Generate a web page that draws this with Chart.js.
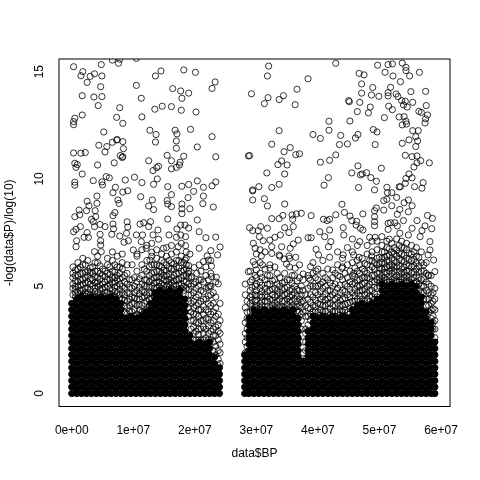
<!DOCTYPE html>
<html>
<head>
<meta charset="utf-8">
<style>html,body{margin:0;background:#fff}canvas{display:block}</style>
<script src="https://cdn.jsdelivr.net/npm/chart.js@4"></script>
</head>
<body>
<canvas id="chart1" width="480" height="480"></canvas>
<script>
// values, BP in units of 1e6
const xTickLabels = ['0e+00','1e+07','2e+07','3e+07','4e+07','5e+07','6e+07'];
const yTickLabels = ['0','5','10','15'];

const topLeft = [[.3,15.23],[1.8,15],[1.5,14.81],[3,14.78],[3.7,14.9],[4.9,14.8],[4.8,15.33],[2.5,14.5],[4.7,14.3],[1.7,13.88],[3.6,13.82],[4.9,13.84],[4.3,13.42],[1.7,12.98],[.5,12.83],[.3,12.67],[.3,12.53],[6.6,15.54],[7.6,15.39],[7.8,15.58],[10.5,15.62],[13.6,14.8],[14.5,15.03],[18.2,15.08],[20.1,14.97],[10.5,14.36],[11.3,13.76],[7.8,13.32],[13.5,13.25],[14.7,13.39],[16.2,13.37],[17.8,13.2],[20.2,13.12],[16.4,14.21],[17.7,14.1],[19,14],[17.9,13.76],[23.3,14.52],[22.8,14.22],[7.3,12.87],[8.3,12.59],[11.4,12.89],[5.2,12.19],[12.7,12.27],[13.7,12.07],[16.8,12.27],[17.1,12.1],[19.3,12.31],[22.8,11.97],[17,11.77],[13.6,11.72],[17,11.43],[20.4,11.49],[4.4,11.57],[5.7,11.51],[6.6,11.71],[7.3,11.82],[7.4,11.83],[8.3,11.74],[8.4,11.41],[5.4,11.26],[.3,11.21],[1.5,11.2],[2.2,11.23],[7.9,11.09],[8.3,11.04],[8.2,11],[12.5,10.85],[15.5,11.1],[16.2,10.85],[18.2,11.06],[23.4,11.03],[28.7,11.07],[.5,10.73],[.9,10.67],[.7,10.54],[4.2,10.65],[6.9,10.75],[17.6,10.78],[17.5,10.65],[17,10.54],[16.2,10.47],[14.1,10.59],[13.8,10.53],[13.2,10.39],[1.7,10.23],[3.5,9.92],[4.9,9.86],[5.6,10.11],[6.1,10.05],[8.7,9.95],[10.2,10.08],[11.4,9.83],[13.9,10],[13.3,9.75],[.5,9.85],[.5,9.71],[5,9.72],[7.1,9.61],[15.6,9.64],[17.9,9.66],[19,9.74],[20.4,9.91],[21.4,9.61],[22.8,9.68],[23.4,9.86]];

const topRight = [[32,15.26],[31.8,14.8],[38.4,14.67],[42.9,15.39],[29.2,13.97],[31.9,13.79],[33.7,13.7],[34.4,13.88],[36.6,14.18],[31.3,13.51],[36.3,13.46],[49.7,15.3],[51.4,15.33],[52.1,15.36],[53.7,15.4],[54.3,15.2],[54.3,15.05],[50.9,14.97],[46.7,14.92],[47.5,14.85],[52.2,14.8],[54.9,14.8],[56.5,14.97],[53.4,14.53],[47.1,14.43],[48.9,14.26],[51.8,14.27],[55.1,14.07],[57.5,14.08],[47.1,14],[48.7,13.91],[49.9,13.85],[51.4,14.02],[51.4,13.87],[52.7,13.96],[53,13.84],[45,13.65],[45.1,13.6],[46.8,13.57],[53.6,13.65],[54.2,13.62],[55.4,13.57],[53.9,13.45],[54.5,13.35],[57.6,13.42],[48.5,13.35],[46.4,13.14],[48.2,13.08],[51.5,13.39],[52.1,13.23],[56.4,13.15],[56.8,13.1],[57.8,12.98],[57.5,12.8],[57.4,12.61],[50.8,12.86],[53.2,12.89],[54,12.9],[54.3,12.69],[54.4,12.56],[53.7,12.52],[41.8,12.69],[45.2,12.7],[41.8,12.27],[33.7,12.25],[39.2,12.07],[40.4,11.89],[43.7,12.03],[46.5,12.07],[46.1,11.91],[49,12.3],[49.6,12.19],[55.4,12.25],[56.3,12.25],[55.9,11.97],[56.2,11.77],[54.8,11.82],[53.7,11.66],[55.9,11.51],[49.3,11.6],[44.8,11.63],[43.5,11.6],[32.5,11.62],[35.5,11.46],[34.5,11.27],[36.4,11.13],[37,11.17],[28.9,11.09],[34.1,10.84],[33.5,10.67],[35,10.65],[42.9,11.12],[41.9,10.87],[40.4,10.78],[54.2,11.1],[55.3,11.04],[56.1,11.07],[56.7,10.85],[56.1,10.75],[55.6,10.56],[58.1,10.75],[46.5,10.61],[50.3,10.5],[31.7,10.28],[34.6,10.23],[45.5,10.28],[46.9,10.19],[47.2,10.23],[47.9,10.29],[48.6,10.06],[49.5,9.89],[41.7,10.06],[54.8,10.23],[55.3,10.05],[54.3,10.02],[54.2,9.8],[57.1,9.83],[41,9.71],[33.7,9.75],[32.5,9.6],[30.4,9.64],[29.4,9.49],[46.6,9.6],[49.2,9.49],[51.2,9.61],[53.2,9.63],[53.4,9.64],[55.7,9.64],[56.9,9.57]];

const midLeft = [[6.7,9.36],[8.3,9.39],[9.1,9.45],[11.2,9.17],[4.1,9.2],[2.5,8.96],[7.5,9.02],[7.7,8.86],[4.1,8.86],[2.8,8.75],[12.5,8.74],[13.1,9.02],[13.3,8.57],[15.5,8.99],[15.6,8.83],[16.2,9.27],[16.2,8.71],[17.9,8.83],[17.9,8.61],[17.9,8.38],[19.2,8.61],[18.9,9.13],[19.8,9.42],[21.4,9.2],[21.3,8.85],[23,8.69],[1.2,8.55],[2.4,8.52],[3.8,8.52],[.5,8.24],[1.3,8.33],[3.9,8.24],[7,8.43],[6.7,8.29],[15.6,8.13],[20.4,8.09],[3.2,8.12],[3.5,8.01],[9,8],[9.1,7.76],[11.1,7.9],[11.7,7.96],[12.8,8.01],[12.5,7.78],[4.6,7.88],[5.4,7.78],[6.7,7.9],[6.8,7.68],[3.7,7.78],[1.4,7.78],[.7,7.65],[.3,7.54],[17.7,7.85],[18.4,7.85],[19,7.71],[17.1,7.67],[20.7,7.54],[14,7.62],[2.5,7.5],[4.6,7.42],[6.5,7.42],[8.9,7.47],[10.5,7.39],[11.5,7.39],[13.2,7.39],[15.8,7.39],[17.7,7.39],[21.8,7.26],[23.4,7.29],[2,7.28],[2.7,7.28],[7.8,7.34],[11.3,7.08],[4.7,7.12],[.8,7.12],[8.5,7.05],[9.2,7.12],[14.1,7.19],[17,7.28],[18.5,7.31],[18.5,6.89],[24.1,6.83],[20.7,6.77],[22.6,6.66],[23.7,6.46],[4.7,6.92],[.7,6.84],[3.7,6.61],[4.8,6.61],[10,6.69],[10.6,6.5],[12.1,6.77],[13,6.58],[12.7,6.22],[14.9,6.77],[17.3,6.84],[19.2,6.5],[22,6.41],[21.4,6.15],[20.7,5.99],[19,5.96],[19.9,5.87],[18.4,6.22],[22.7,5.94],[22.2,6.22],[23.8,5.11],[23.5,5.42],[22.4,5.01],[20.3,5.6],[19.5,5.45],[20.7,5.29],[18.9,5.6],[22.7,5.45],[24.1,4.2]];

const midRight = [[29.4,9.44],[29.4,9.02],[31.3,9.08],[31.8,8.74],[34.6,8.83],[32.5,8.15],[33.7,8.15],[34.3,8.3],[35.8,8.32],[35.9,8.12],[36.5,8.37],[37.3,8.4],[38.9,8.29],[40.9,8.12],[41.5,8.06],[41.9,8.12],[42.9,8.33],[43.9,8.82],[44.3,8.44],[45.2,8.27],[46.3,8.02],[47.3,8.37],[45.5,8.06],[49.2,8.52],[49.5,8.65],[50.7,8.99],[51.2,9.05],[51.3,9.36],[52,9.36],[52.8,9.14],[52,8.75],[50.7,8.55],[54,8.89],[54.7,9.02],[55.3,8.75],[53.3,8.58],[54.7,8.47],[52.9,8.35],[57.8,8.3],[58.6,8.16],[56.1,8.06],[57.4,7.81],[58.5,7.68],[49.2,8.24],[49.2,8.01],[49.2,7.82],[51.4,7.93],[51.8,7.96],[52.5,7.96],[53.9,8.06],[51.4,7.65],[52.9,7.81],[55.3,7.7],[56.9,7.59],[28.9,7.73],[29.4,7.59],[30.7,7.78],[30.3,7.59],[31.8,7.7],[34.6,7.73],[36,7.78],[35.3,7.5],[33.9,7.39],[33,7.28],[32.2,7.15],[31.1,7.12],[30.5,7.31],[36.8,7.15],[38.4,7.26],[38.9,7.26],[40.3,7.54],[41.9,7.62],[41.1,7.31],[44.1,7.73],[44.2,7.39],[46.2,7.85],[46.9,7.7],[47.3,7.62],[45.6,7.2],[42.1,7.08],[46.8,7.08],[48.4,7.28],[49.3,7.28],[50.4,7.31],[51.6,7.19],[53.3,7.47],[54.7,7.39],[56.6,7.31],[58.2,7.08],[29.5,7],[29.8,6.77],[32.5,6.84],[34.1,6.84],[35.5,6.77],[36,6.97],[41.7,6.84],[39.7,6.72],[30,6.5],[30.8,6.41],[32.5,6.53],[33.7,6.46],[34.5,6.27],[35.3,6.41],[36.4,6.35],[40.1,6.46],[41.9,6.35],[44.1,6.46],[45.8,6.46],[46.7,6.35],[48.7,6.41],[58.2,6.69],[57.9,6.46],[58.8,6.22],[29.5,6.15],[31,5.99],[28.7,5.68],[30,5.76],[32.2,5.84],[34.9,6.04],[36.3,5.84],[37.6,5.57],[38.8,5.91],[39.7,5.71],[38.5,5.37],[42.4,5.76],[43.9,5.84],[45.8,5.6],[59,5.68],[57.9,5.52]];

// the mesh just above the black mass, estimated column by column
const meshBP = [.2,1,1.8,2.6,3.4,4.2,5,5.8,6.6,7.4,8.2,9,9.8,10.6,11.4,12.2,13,13.8,14.6,15.4,16.2,17,17.8,18.6,19.4,20.2,21,21.8,22.6,23.4,24.1,28.2,29,29.8,30.6,31.4,32.2,33,33.8,34.6,35.4,36.2,37,37.6,38.4,39.2,40,40.8,41.6,42.4,43.2,44,44.8,45.6,46.4,47.2,48,48.8,49.6,50.4,51.2,52,52.8,53.6,54.4,55.2,56,56.8,57.6,58.4,59];
const meshLogP = [
[4.6,4.9,5.1,5.4,5.6,5.9],[4.7,5,5.2,5.5,5.8,6.1],[4.6,4.8,5.1,5.3,5.6,6,6.3],[4.7,4.9,5.2,5.5,5.7,6.2],[4.6,5,5.3,5.6,5.9],[4.7,5,5.2,5.4,5.7,6.1,6.4],[4.6,4.9,5.1,5.5,5.8],[4.7,5,5.3,5.6,6,6.3],[4.6,4.8,5.2,5.4,5.7,6.2,6.6],[4.7,5,5.3,5.5,5.9,6.4],[4.4,4.7,5,5.4,5.8,6.1,6.5],
[3.7,4,4.3,4.7,5.1,5.6,6],[3.8,4.2,4.5,4.9,5.3,6],[3.7,4.1,4.4,4.8,5.2,5.7,6.4],[3.8,4.1,4.5,4.8,5.1,5.5,6,6.7],[3.9,4.3,4.6,5,5.3,5.7,6.2,6.9],[4.4,4.7,5,5.3,5.6,6,6.4,7],[4.9,5.2,5.4,5.7,6,6.3,6.7],[4.9,5.1,5.4,5.6,5.9,6.2,6.5],[5,5.2,5.5,5.7,6,6.4,6.8],[4.9,5.2,5.4,5.8,6.1,6.5,6.9],[5,5.3,5.6,5.9,6.2,6.6],[4.9,5.1,5.4,5.7,6.1,6.4,7],[4.9,5.2,5.5,5.8,6,6.3,6.6],
[3,3.4,3.8,4.2,4.6,5,5.4],[2.5,2.9,3.3,3.7,4.1,4.5,4.9,5.2],[2.5,3,3.4,3.9,4.3,4.8,5.3,5.7],[2.6,3,3.5,3.9,4.4,4.9,5.5,5.9],[2.5,2.9,3.3,3.7,4.1,4.6,5,5.6,6.2],[1.8,2.2,2.7,3.1,3.6,4,4.5,5.2],[1.4,1.9,2.3,2.8,3.4],
[1.9,2.4,2.8,3.3,4,4.6,5.1],[3.8,4.2,4.5,4.8,5.2,5.7],[4,4.3,4.6,5,5.5,6],[4,4.2,4.6,4.9,5.2,5.6,6.1,6.7],[3.9,4.3,4.6,4.9,5.3,5.8,6.6],[4,4.4,4.8,5.1,5.5,6],[4,4.2,4.5,4.9,5.3,5.9],[4,4.4,4.7,5,5.4,6.4],[4,4.3,4.6,4.9,5.2,5.6],[4,4.3,4.5,4.8,5.3,5.9,6.3],[4,4.4,4.7,5,5.5],[3.8,4.1,4.4,4.8,5.4,6],[1.9,2.4,3.8,4.3,4.8,5.3],[3.2,3.6,4,4.4,4.9,5.5],
[3.8,4.1,4.5,5,5.6,6.1],[3.8,4.2,4.6,5,5.3,5.8],[3.8,4.1,4.5,4.9,5.2,5.6,6.2],[3.8,4.2,4.4,4.8,5.3,5.8],[3.8,4.1,4.6,5,5.4],[3.8,4.2,4.5,4.9,5.5,6,6.6],[3.8,4.1,4.4,4.8,5.3,5.9,6.3],[3.8,4.2,4.6,5,5.4,6,6.8],[3.9,4.3,4.7,5.1,5.5,6.1,6.6],[4.4,4.7,5,5.3,5.7,6.2,6.9],[4.4,4.8,5.1,5.4,5.8,6.3],[4.4,4.7,5,5.4,5.6,6,6.5,6.9],[4.5,4.8,5.2,5.5,5.9,6.2,6.6,7.1],[4.5,4.9,5.3,5.6,6,6.3,6.7,7.1],
[5.3,5.5,5.8,6.1,6.3,6.6,6.9],[5.3,5.6,5.9,6.2,6.4,6.8,7.1],[5.3,5.6,5.8,6,6.3,6.6,7],[5.3,5.5,5.9,6.1,6.4,6.7,7.2],[5.3,5.6,5.8,6.2,6.5,6.8,7.1],[5.3,5.5,5.7,6,6.3,6.7,7],[5.3,5.6,5.9,6.2,6.5,6.9],[5.2,5.5,5.8,6.1,6.4,6.8],[4.7,5,5.3,5.7,6.1,6.6],[4.1,4.4,4.8,5.2,5.6,6.1],[3.5,3.9,4.2,4.6,5,5.5],[2.6,3,3.4,3.9,4.4,4.9]
];

// second pass between those columns, the dark part of the mesh
const darkMeshBP = [.6,1.4,2.2,3,3.8,4.6,5.4,6.2,7,7.8,8.6,9.4,10.2,11,11.8,12.6,13.4,14.2,15,15.8,16.6,17.4,18.2,19,19.8,20.6,21.4,22.2,23,23.8,28.5,29.3,30,30.9,31.8,32.6,33.4,34.2,35,35.8,36.6,37.3,38,38.8,39.6,40.4,41.2,42,42.8,43.6,44.4,45.2,46,46.8,47.6,48.4,49.2,50,50.8,51.6,52.4,53.2,54,54.8,55.6,56.4,57.2,58,58.7];
const darkMeshLogP = [
[4.5,4.7,4.85,5,5.25,5.5,5.75],[4.5,4.65,4.8,5.05,5.3,5.6,5.9],[4.55,4.7,4.9,5.15,5.4,5.65,6],[4.5,4.6,4.85,5.1,5.35,5.65,5.85],[4.55,4.75,4.9,5.15,5.45,5.7,6.1],[4.5,4.65,4.85,5.05,5.35,5.6,5.95],[4.55,4.7,4.95,5.2,5.45,5.7],[4.5,4.65,4.9,5.1,5.3,5.55,5.9],[4.55,4.75,4.95,5.15,5.4,5.65,6],[4.4,4.6,4.85,5.1,5.35,5.6,5.9],
[3.8,4.1,4.35,4.6,4.9,5.2,5.5],[3.6,3.85,4.1,4.4,4.65,4.95,5.3],[3.6,3.9,4.2,4.45,4.7,5,5.4],[3.65,3.9,4.15,4.4,4.65,4.95,5.35],[3.6,3.85,4.2,4.5,4.7,5,5.3,5.8],[3.9,4.1,4.4,4.7,4.95,5.2,5.5,5.9],[4.5,4.7,4.9,5.15,5.4,5.65,6],[4.8,5,5.2,5.45,5.7,5.95],[4.85,5.05,5.3,5.5,5.75,6.1],[4.85,5.1,5.3,5.55,5.85,6.2],[4.85,5.05,5.25,5.5,5.8,6.05],[4.85,5.1,5.3,5.6,5.85,6.2],[4.8,5,5.25,5.5,5.75,6.1],
[3.6,4,4.3,4.6,4.85,5.1,5.4,5.7],[2.5,2.8,3.1,3.4,3.7,4,4.3,4.7,5.1],[2.5,2.75,3,3.3,3.6,3.9,4.2,4.6,5],[2.5,2.8,3.1,3.4,3.7,4.05,4.4,4.75,5.2],[2.5,2.8,3.15,3.45,3.8,4.2,4.55,4.95,5.3],[2,2.4,2.7,3,3.4,3.8,4.2,4.7],[1.3,1.6,2,2.5,2.9,3.2,3.7],
[1.9,2.2,2.6,3,3.5,3.8,4.3],[3.6,3.9,4.05,4.35,4.6,4.95,5.3],[3.9,4.1,4.35,4.55,4.8,5.1,5.4],[3.9,4.1,4.3,4.5,4.75,5.05,5.4],[3.9,4.05,4.3,4.5,4.75,5.1,5.5],[3.85,4.1,4.35,4.6,4.85,5.25],[3.9,4.1,4.3,4.6,4.8,5.1,5.6],[3.85,4.05,4.3,4.55,4.85,5.15],[3.9,4.15,4.4,4.65,4.95,5.3],[3.9,4.1,4.3,4.6,4.85,5.15,5.5],[3.85,4.05,4.3,4.55,4.85,5.25],[3,3.4,3.7,4,4.25,4.6,5],[1.6,2,2.4,2.8,3,3.6,4.1,4.6],
[3.4,3.7,3.95,4.25,4.6,5,5.3],[3.6,3.85,4.05,4.35,4.7,5,5.4],[3.65,3.9,4.15,4.4,4.75,5.1],[3.6,3.85,4.1,4.35,4.65,5,5.4],[3.65,3.95,4.2,4.5,4.8,5.15],[3.6,3.85,4.1,4.4,4.7,5.1,5.6],[3.65,3.9,4.1,4.35,4.7,5.05,5.45],[3.6,3.9,4.15,4.45,4.75,5.1,5.6],[3.7,3.95,4.25,4.5,4.85,5.2,5.7],[4.1,4.3,4.55,4.85,5.15,5.45,5.85],[4.3,4.55,4.8,5,5.3,5.6,6],[4.3,4.6,4.85,5.15,5.4,5.7,6.05],[4.3,4.55,4.8,5.1,5.35,5.75,6.2],[4.4,4.65,4.95,5.2,5.5,5.8,6.1],
[5,5.2,5.4,5.6,5.85,6.05,6.35],[5.2,5.4,5.65,5.85,6.05,6.35,6.6],[5.2,5.45,5.7,5.95,6.15,6.45,6.75],[5.2,5.4,5.7,5.9,6.2,6.5,6.8],[5.2,5.45,5.65,5.95,6.25,6.55,6.9],[5.2,5.4,5.65,5.9,6.15,6.45,6.8],[5.2,5.4,5.7,5.95,6.25,6.55],[5.15,5.4,5.65,5.95,6.25,6.6],[4.8,5.1,5.4,5.65,5.95,6.35],[4.4,4.7,5,5.35,5.7,6],[3.8,4.1,4.4,4.7,5.1,5.5],[3,3.3,3.6,3.95,4.3,4.7]
];

// tens of thousands of overlapping points make a solid block here, they cant be read one by one
// so this is a coarse stand-in: top of the block per column, filled points
const massBP = [0,.8,1.6,2.4,3.2,4,4.8,5.6,6.4,7.2,8,8.8,9.6,10.4,11.2,12,12.8,13.6,14.4,15.2,16,16.8,17.6,18.4,19.2,20,20.8,21.6,22.4,23.2,24,28.1,28.8,29.6,30.4,31.2,32,32.8,33.6,34.4,35.2,36,36.8,37.6,38.4,39.2,40,40.8,41.6,42.4,43.2,44,44.8,45.6,46.4,47.2,48,48.8,49.6,50.4,51.2,52,52.8,53.6,54.4,55.2,56,56.8,57.6,58.4,59];
const massLogP = [
[0,.3,.6,.9,1.2,1.5,1.8,2.1,2.4,2.7,3,3.3,3.6,3.9,4.2],
[0,.2,.5,.8,1.1,1.4,1.7,2,2.3,2.6,2.9,3.2,3.5,3.8,4.1,4.4],
[0,.3,.6,.9,1.2,1.5,1.8,2.1,2.4,2.7,3,3.3,3.6,3.9,4.2,4.5],
[0,.2,.5,.8,1.1,1.4,1.7,2,2.3,2.6,2.9,3.2,3.5,3.8,4.1,4.4],
[0,.3,.6,.9,1.2,1.5,1.8,2.1,2.4,2.7,3,3.3,3.6,3.9,4.2,4.5],
[0,.2,.5,.8,1.1,1.4,1.7,2,2.3,2.6,2.9,3.2,3.5,3.8,4.1,4.4],
[0,.3,.6,.9,1.2,1.5,1.8,2.1,2.4,2.7,3,3.3,3.6,3.9,4.2,4.5],
[0,.2,.5,.8,1.1,1.4,1.7,2,2.3,2.6,2.9,3.2,3.5,3.8,4.1,4.4],
[0,.3,.6,.9,1.2,1.5,1.8,2.1,2.4,2.7,3,3.3,3.6,3.9,4.2,4.5],
[0,.2,.5,.8,1.1,1.4,1.7,2,2.3,2.6,2.9,3.2,3.5,3.8,4.1,4.4],
[0,.3,.6,.9,1.2,1.5,1.8,2.1,2.4,2.7,3,3.3,3.6,3.9,4.2],
[0,.2,.5,.8,1.1,1.4,1.7,2,2.3,2.6,2.9,3.2,3.5],
[0,.3,.6,.9,1.2,1.5,1.8,2.1,2.4,2.7,3,3.3,3.6],
[0,.2,.5,.8,1.1,1.4,1.7,2,2.3,2.6,2.9,3.2,3.5],
[0,.3,.6,.9,1.2,1.5,1.8,2.1,2.4,2.7,3,3.3,3.6],
[0,.2,.5,.8,1.1,1.4,1.7,2,2.3,2.6,2.9,3.2,3.5,3.8],
[0,.3,.6,.9,1.2,1.5,1.8,2.1,2.4,2.7,3,3.3,3.6,3.9,4.2],
[0,.2,.5,.8,1.1,1.4,1.7,2,2.3,2.6,2.9,3.2,3.5,3.8,4.1,4.4,4.7],
[0,.3,.6,.9,1.2,1.5,1.8,2.1,2.4,2.7,3,3.3,3.6,3.9,4.2,4.5,4.8],
[0,.2,.5,.8,1.1,1.4,1.7,2,2.3,2.6,2.9,3.2,3.5,3.8,4.1,4.4,4.7],
[0,.3,.6,.9,1.2,1.5,1.8,2.1,2.4,2.7,3,3.3,3.6,3.9,4.2,4.5,4.8],
[0,.2,.5,.8,1.1,1.4,1.7,2,2.3,2.6,2.9,3.2,3.5,3.8,4.1,4.4,4.7],
[0,.3,.6,.9,1.2,1.5,1.8,2.1,2.4,2.7,3,3.3,3.6,3.9,4.2,4.5,4.8],
[0,.2,.5,.8,1.1,1.4,1.7,2,2.3,2.6,2.9,3.2,3.5,3.8,4.1,4.4],
[0,.3,.6,.9,1.2,1.5,1.8,2.1,2.4,2.7],
[0,.2,.5,.8,1.1,1.4,1.7,2,2.3],
[0,.3,.6,.9,1.2,1.5,1.8,2.1,2.4],
[0,.2,.5,.8,1.1,1.4,1.7,2,2.3],
[0,.3,.6,.9,1.2,1.5,1.8,2.1,2.4],
[0,.2,.5,.8,1.1,1.4,1.7],
[0,.3,.6,.9,1.2],
[0,.3,.6,.9,1.2,1.5,1.8],
[0,.2,.5,.8,1.1,1.4,1.7,2,2.3,2.6,2.9,3.2,3.5],
[0,.3,.6,.9,1.2,1.5,1.8,2.1,2.4,2.7,3,3.3,3.6,3.9],
[0,.2,.5,.8,1.1,1.4,1.7,2,2.3,2.6,2.9,3.2,3.5,3.8],
[0,.3,.6,.9,1.2,1.5,1.8,2.1,2.4,2.7,3,3.3,3.6,3.9],
[0,.2,.5,.8,1.1,1.4,1.7,2,2.3,2.6,2.9,3.2,3.5,3.8],
[0,.3,.6,.9,1.2,1.5,1.8,2.1,2.4,2.7,3,3.3,3.6,3.9],
[0,.2,.5,.8,1.1,1.4,1.7,2,2.3,2.6,2.9,3.2,3.5,3.8],
[0,.3,.6,.9,1.2,1.5,1.8,2.1,2.4,2.7,3,3.3,3.6,3.9],
[0,.2,.5,.8,1.1,1.4,1.7,2,2.3,2.6,2.9,3.2,3.5,3.8],
[0,.3,.6,.9,1.2,1.5,1.8,2.1,2.4,2.7,3,3.3,3.6,3.9],
[0,.2,.5,.8,1.1,1.4,1.7,2,2.3,2.6,2.9,3.2,3.5],
[0,.3,.6,.9,1.2,1.5],
[0,.2,.5,.8,1.1,1.4,1.7,2,2.3,2.6,2.9],
[0,.3,.6,.9,1.2,1.5,1.8,2.1,2.4,2.7,3,3.3,3.6],
[0,.2,.5,.8,1.1,1.4,1.7,2,2.3,2.6,2.9,3.2,3.5],
[0,.3,.6,.9,1.2,1.5,1.8,2.1,2.4,2.7,3,3.3,3.6],
[0,.2,.5,.8,1.1,1.4,1.7,2,2.3,2.6,2.9,3.2,3.5],
[0,.3,.6,.9,1.2,1.5,1.8,2.1,2.4,2.7,3,3.3,3.6],
[0,.2,.5,.8,1.1,1.4,1.7,2,2.3,2.6,2.9,3.2,3.5],
[0,.3,.6,.9,1.2,1.5,1.8,2.1,2.4,2.7,3,3.3,3.6],
[0,.2,.5,.8,1.1,1.4,1.7,2,2.3,2.6,2.9,3.2,3.5],
[0,.3,.6,.9,1.2,1.5,1.8,2.1,2.4,2.7,3,3.3,3.6,3.9],
[0,.2,.5,.8,1.1,1.4,1.7,2,2.3,2.6,2.9,3.2,3.5,3.8,4.1],
[0,.3,.6,.9,1.2,1.5,1.8,2.1,2.4,2.7,3,3.3,3.6,3.9,4.2],
[0,.2,.5,.8,1.1,1.4,1.7,2,2.3,2.6,2.9,3.2,3.5,3.8,4.1],
[0,.3,.6,.9,1.2,1.5,1.8,2.1,2.4,2.7,3,3.3,3.6,3.9,4.2],
[0,.2,.5,.8,1.1,1.4,1.7,2,2.3,2.6,2.9,3.2,3.5,3.8,4.1,4.4],
[0,.3,.6,.9,1.2,1.5,1.8,2.1,2.4,2.7,3,3.3,3.6,3.9,4.2,4.5,4.8,5.1],
[0,.2,.5,.8,1.1,1.4,1.7,2,2.3,2.6,2.9,3.2,3.5,3.8,4.1,4.4,4.7,5],
[0,.3,.6,.9,1.2,1.5,1.8,2.1,2.4,2.7,3,3.3,3.6,3.9,4.2,4.5,4.8,5.1],
[0,.2,.5,.8,1.1,1.4,1.7,2,2.3,2.6,2.9,3.2,3.5,3.8,4.1,4.4,4.7,5],
[0,.3,.6,.9,1.2,1.5,1.8,2.1,2.4,2.7,3,3.3,3.6,3.9,4.2,4.5,4.8,5.1],
[0,.2,.5,.8,1.1,1.4,1.7,2,2.3,2.6,2.9,3.2,3.5,3.8,4.1,4.4,4.7,5],
[0,.3,.6,.9,1.2,1.5,1.8,2.1,2.4,2.7,3,3.3,3.6,3.9,4.2,4.5,4.8,5.1],
[0,.2,.5,.8,1.1,1.4,1.7,2,2.3,2.6,2.9,3.2,3.5,3.8,4.1,4.4,4.7,5],
[0,.3,.6,.9,1.2,1.5,1.8,2.1,2.4,2.7,3,3.3,3.6,3.9,4.2,4.5],
[0,.2,.5,.8,1.1,1.4,1.7,2,2.3,2.6,2.9,3.2,3.5,3.8],
[0,.3,.6,.9,1.2,1.5,1.8,2.1,2.4,2.7,3,3.3],
[0,.3,.6,.9,1.2,1.5,1.8,2.1,2.4]
];

function pairsToPoints(pairs) {
  return pairs.map(p => ({ x: p[0], y: p[1] }));
}
function columnsToPoints(xs, columns) {
  return xs.flatMap((x, i) => columns[i].map(y => ({ x: x, y: y })));
}

const boxPlugin = {
  id: 'box',
  afterDatasetsDraw(chart) {
    const a = chart.chartArea;
    const ctx = chart.ctx;
    ctx.save();
    ctx.strokeStyle = '#000';
    ctx.lineWidth = 1;
    ctx.strokeRect(a.left, a.top, a.right - a.left, a.bottom - a.top);
    ctx.restore();
  }
};

const ringStyle = { borderColor: '#000', borderWidth: 0.8, backgroundColor: 'transparent', pointRadius: 3.1, showLine: false };

var ctx1 = document.getElementById('chart1').getContext('2d');
var chart1 = new Chart(ctx1, {
  type: 'scatter',
  plugins: [boxPlugin],
  data: {
    datasets: [
      { label: 'mass', data: columnsToPoints(massBP, massLogP), borderColor: '#000', borderWidth: 1, backgroundColor: '#000', pointRadius: 3.1, showLine: false },
      { label: 'mesh', data: columnsToPoints(meshBP, meshLogP), ...ringStyle },
      { label: 'dark mesh', data: columnsToPoints(darkMeshBP, darkMeshLogP), ...ringStyle },
      { label: 'scattered', data: pairsToPoints([...midLeft, ...midRight, ...topLeft, ...topRight]), ...ringStyle }
    ]
  },
  options: {
    responsive: false,
    animation: false,
    layout: { padding: { top: 59, right: 30, left: 0, bottom: 0 } },
    plugins: { legend: { display: false }, tooltip: { enabled: false } },
    scales: {
      x: {
        type: 'linear',
        min: -2.07,
        max: 61.46,
        afterFit: s => { s.height = 73.5; },
        grid: { display: false, drawTicks: true, tickLength: 7, tickColor: '#000' },
        border: { display: false },
        ticks: {
          stepSize: 10,
          includeBounds: false,
          autoSkip: false,
          maxRotation: 0,
          color: '#000',
          padding: 10,
          font: { family: '"Liberation Sans"', size: 12 },
          callback: (v, i) => xTickLabels[i]
        },
        title: { display: true, text: 'data$BP', color: '#000', padding: { top: 0, bottom: 19 }, font: { family: '"Liberation Sans"', size: 12 } }
      },
      y: {
        type: 'linear',
        min: -0.605,
        max: 15.59,
        afterFit: s => { s.width = 59; },
        grid: { display: false, drawTicks: true, tickLength: 7, tickColor: '#000' },
        border: { display: false },
        ticks: {
          stepSize: 5,
          includeBounds: false,
          autoSkip: false,
          minRotation: 90,
          maxRotation: 90,
          crossAlign: 'center',
          color: '#000',
          padding: 6,
          font: { family: '"Liberation Sans"', size: 12 },
          callback: (v, i) => yTickLabels[i]
        },
        title: { display: true, text: '-log(data$P)/log(10)', color: '#000', padding: { top: 2, bottom: 0 }, font: { family: '"Liberation Sans"', size: 12 } }
      }
    }
  }
});
</script>
</body>
</html>
